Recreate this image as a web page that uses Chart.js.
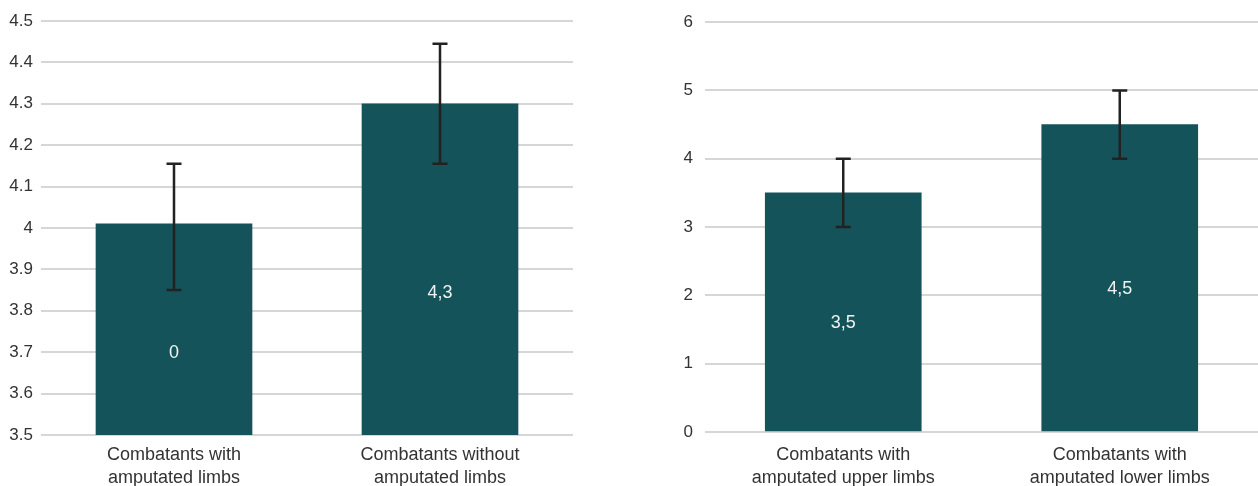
<!DOCTYPE html>
<html>
<head>
<meta charset="utf-8">
<script src="https://cdn.jsdelivr.net/npm/chart.js@4"></script>
<style>
  html, body { margin: 0; padding: 0; background: #fff; }
  #wrap { position: relative; width: 1258px; height: 486px; }
  .box { position: absolute; top: 0; height: 486px; }
  #leftBox  { left: 0;   width: 580px; }
  #rightBox { left: 640px; width: 618px; }
</style>
</head>
<body>
<div id="wrap">
  <div class="box" id="leftBox"><canvas id="leftChart"></canvas></div>
  <div class="box" id="rightBox"><canvas id="rightChart"></canvas></div>
</div>
<script>
/* -------------------- data -------------------- */
const leftCategories = [['Combatants with', 'amputated limbs'], ['Combatants without', 'amputated limbs']];
const leftValues     = [4.01, 4.3];
const leftLabels     = ['0', '4,3'];
const leftErrLow     = [3.85, 4.155];
const leftErrHigh    = [4.155, 4.445];

const rightCategories = [['Combatants with', 'amputated upper limbs'], ['Combatants with', 'amputated lower limbs']];
const rightValues     = [3.5, 4.5];
const rightLabels     = ['3,5', '4,5'];
const rightErrLow     = [3, 4];
const rightErrHigh    = [4, 5];

/* -------------------- styles -------------------- */
const BAR_COLOR  = '#135359';
const GRID_COLOR = '#d6d6d6';
const TEXT_COLOR = '#333333';
const FONT       = '"Liberation Sans", Arial, Helvetica, sans-serif';

// error bars + in-bar value labels
const barExtras = {
  id: 'barExtras',
  afterDatasetsDraw(chart, args, opts) {
    const { ctx, chartArea } = chart;
    const y = chart.scales.y;
    const meta = chart.getDatasetMeta(0);
    meta.data.forEach((bar, i) => {
      // value label (base is clamped: the axis does not start at 0 on the left chart)
      const base = Math.min(bar.base, chartArea.bottom);
      const mid = (bar.y + base) / 2 + opts.labelShift;
      ctx.save();
      ctx.fillStyle = '#eef3f3';
      ctx.font = `18px ${FONT}`;
      ctx.textAlign = 'center';
      ctx.textBaseline = 'middle';
      ctx.fillText(opts.labels[i], bar.x, mid);
      ctx.restore();

      // error bar
      const yHi = y.getPixelForValue(opts.high[i]);
      const yLo = y.getPixelForValue(opts.low[i]);
      ctx.save();
      ctx.strokeStyle = '#222';
      ctx.lineWidth = 2.5;
      ctx.beginPath();
      ctx.moveTo(bar.x, yHi); ctx.lineTo(bar.x, yLo);
      ctx.moveTo(bar.x - 7.5, yHi); ctx.lineTo(bar.x + 7.5, yHi);
      ctx.moveTo(bar.x - 7.5, yLo); ctx.lineTo(bar.x + 7.5, yLo);
      ctx.stroke();
      ctx.restore();
    });
  }
};

function makeChart(id, { categories, values, labels, low, high, min, max, step, yWidth, xHeight, xPad, yPad, pad, labelShift, fmt }) {
  return new Chart(document.getElementById(id), {
    type: 'bar',
    data: {
      labels: categories,
      datasets: [{
        data: values,
        backgroundColor: BAR_COLOR,
        barThickness: 156
      }]
    },
    plugins: [barExtras],
    options: {
      responsive: true,
      maintainAspectRatio: false,
      animation: false,
      layout: { padding: pad },
      plugins: {
        legend: { display: false },
        tooltip: { enabled: false },
        barExtras: { labels, low, high, labelShift }
      },
      scales: {
        x: {
          grid: { display: false },
          border: { display: false },
          ticks: {
            color: TEXT_COLOR,
            padding: xPad,
            font: { family: FONT, size: 18, lineHeight: 23 / 18 },
            maxRotation: 0
          },
          afterFit: (s) => { s.height = xHeight; }
        },
        y: {
          min, max,
          grid: { color: GRID_COLOR, lineWidth: 2, drawTicks: false },
          border: { display: false },
          ticks: {
            stepSize: step,
            color: TEXT_COLOR,
            padding: yPad,
            font: { family: FONT, size: 17 },
            callback: fmt
          },
          afterFit: (s) => { s.width = yWidth; }
        }
      }
    }
  });
}

makeChart('leftChart', {
  categories: leftCategories, values: leftValues, labels: leftLabels,
  low: leftErrLow, high: leftErrHigh,
  min: 3.5, max: 4.5, step: 0.1,
  yWidth: 41, xHeight: 51, xPad: 1, yPad: 8,
  pad: { top: 21, right: 7, bottom: 0, left: 0 },
  labelShift: 24,
  fmt: (v) => String(Number(v.toFixed(1)))
});

makeChart('rightChart', {
  categories: rightCategories, values: rightValues, labels: rightLabels,
  low: rightErrLow, high: rightErrHigh,
  min: 0, max: 6, step: 1,
  yWidth: 65, xHeight: 54, xPad: 4, yPad: 12,
  pad: { top: 11, right: 0, bottom: 0, left: 0 },
  labelShift: 11,
  fmt: (v) => String(v)
});
</script>
</body>
</html>
